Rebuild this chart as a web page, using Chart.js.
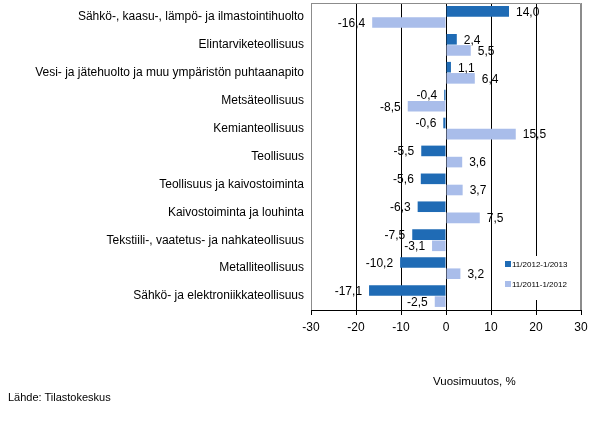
<!DOCTYPE html>
<html>
<head>
<meta charset="utf-8">
<script src="https://cdn.jsdelivr.net/npm/chart.js@4"></script>
<style>
    body { margin: 0; background: #fff; }
    #wrap { position: relative; width: 598px; height: 421px; font-family: "Liberation Sans", Arial, sans-serif; }
    #chart { position: absolute; left: 0; top: 0; }
    .note { position: absolute; font-size: 11px; color: #000; white-space: nowrap; }
    #legend { position: absolute; left: 502px; top: 256px; width: 66px; height: 44px; background: #fff; font-size: 8px; }
    .lg_row { position: absolute; left: 3px; height: 10px; line-height: 10px; }
    .lg_box { display: inline-block; width: 6px; height: 6px; margin-right: 1px; vertical-align: -0px; }
</style>
</head>
<body>
<div id="wrap">
    <canvas id="chart" width="598" height="421"></canvas>
    <div id="legend">
        <div class="lg_row" style="top:4px"><span class="lg_box" style="background:#1f6bb5"></span>11/2012-1/2013</div>
        <div class="lg_row" style="top:24px"><span class="lg_box" style="background:#a9bdea"></span>11/2011-1/2012</div>
    </div>
    <div class="note" style="left:433px; top:375px; font-size:11.5px">Vuosimuutos, %</div>
    <div class="note" style="left:8px; top:391px">Lähde: Tilastokeskus</div>
</div>
<script>
const categories = [
    'Sähkö-, kaasu-, lämpö- ja ilmastointihuolto',
    'Elintarviketeollisuus',
    'Vesi- ja jätehuolto ja muu ympäristön puhtaanapito',
    'Metsäteollisuus',
    'Kemianteollisuus',
    'Teollisuus',
    'Teollisuus ja kaivostoiminta',
    'Kaivostoiminta ja louhinta',
    'Tekstiili-, vaatetus- ja nahkateollisuus',
    'Metalliteollisuus',
    'Sähkö- ja elektroniikkateollisuus'
];
const series_labels = ['11/2012-1/2013', '11/2011-1/2012'];
const values_2013 = [14.0, 2.4, 1.1, -0.4, -0.6, -5.5, -5.6, -6.3, -7.5, -10.2, -17.1];
const values_2012 = [-16.4, 5.5, 6.4, -8.5, 15.5, 3.6, 3.7, 7.5, -3.1, 3.2, -2.5];
const x_ticks = [-30, -20, -10, 0, 10, 20, 30];

const font_family = '"Liberation Sans", Arial, sans-serif';

// grey frame round the plot area
const frame_plugin = {
    id: 'frame',
    beforeDatasetsDraw(chart) {
        const a = chart.chartArea;
        const c = chart.ctx;
        c.save();
        c.strokeStyle = '#8c8c8c';
        c.lineWidth = 1;
        c.beginPath();
        c.moveTo(a.left + 0.5, a.bottom);
        c.lineTo(a.left + 0.5, a.top + 0.5);
        c.lineTo(a.right - 0.5, a.top + 0.5);
        c.lineTo(a.right - 0.5, a.bottom);
        c.stroke();
        c.restore();
    }
};

// value labels beside the bar ends
const value_labels = {
    id: 'value_labels',
    afterDatasetsDraw(chart) {
        const c = chart.ctx;
        c.save();
        c.font = '12px ' + font_family;
        c.fillStyle = '#000';
        c.textBaseline = 'middle';
        chart.data.datasets.forEach(function(ds, i) {
            const meta = chart.getDatasetMeta(i);
            meta.data.forEach(function(bar, j) {
                const v = ds.data[j];
                const txt = v.toFixed(1).replace('.', ',');
                if (v >= 0) {
                    c.textAlign = 'left';
                    c.fillText(txt, bar.x + 7, bar.y + 1);
                } else {
                    c.textAlign = 'right';
                    c.fillText(txt, bar.x - 7, bar.y + 1);
                }
            });
        });
        c.restore();
    }
};

new Chart(document.getElementById('chart'), {
    type: 'bar',
    data: {
        labels: categories,
        datasets: [
            {
                label: series_labels[0],
                data: values_2013,
                backgroundColor: '#1f6bb5',
                categoryPercentage: 0.8,
                barPercentage: 0.95,
            },
            {
                label: series_labels[1],
                data: values_2012,
                backgroundColor: '#a9bdea',
                categoryPercentage: 0.8,
                barPercentage: 0.95,
            }
        ]
    },
    options: {
        indexAxis: 'y',
        responsive: false,
        animation: false,
        layout: {
            padding: { left: 0, top: 3, right: 17, bottom: 0 }
        },
        plugins: {
            legend: { display: false },
            tooltip: { enabled: false }
        },
        scales: {
            x: {
                min: -30,
                max: 30,
                afterBuildTicks: function(scale) {
                    scale.ticks = x_ticks.map((v) => ({ value: v }));
                },
                afterFit: function(scale) {
                    scale.height = 111;
                    scale.paddingLeft = 0;
                    scale.paddingRight = 0;
                },
                grid: {
                    color: function(ctx) {
                        const v = ctx.tick ? ctx.tick.value : 0;
                        return (v === -30 || v === 30) ? '#8c8c8c' : '#000';
                    },
                    tickColor: '#000',
                    tickLength: 5,
                    lineWidth: 1,
                },
                border: { color: '#000', width: 1 },
                ticks: {
                    color: '#000',
                    font: { family: font_family, size: 12 },
                    padding: 5,
                    maxRotation: 0,
                }
            },
            y: {
                afterFit: function(scale) {
                    scale.width = 311;
                    scale.paddingTop = 0;
                    scale.paddingBottom = 0;
                },
                grid: { display: false, tickLength: 0 },
                border: { display: false },
                ticks: {
                    color: '#000',
                    font: { family: font_family, size: 12 },
                    padding: 7,
                }
            }
        }
    },
    plugins: [frame_plugin, value_labels]
});
</script>
</body>
</html>
